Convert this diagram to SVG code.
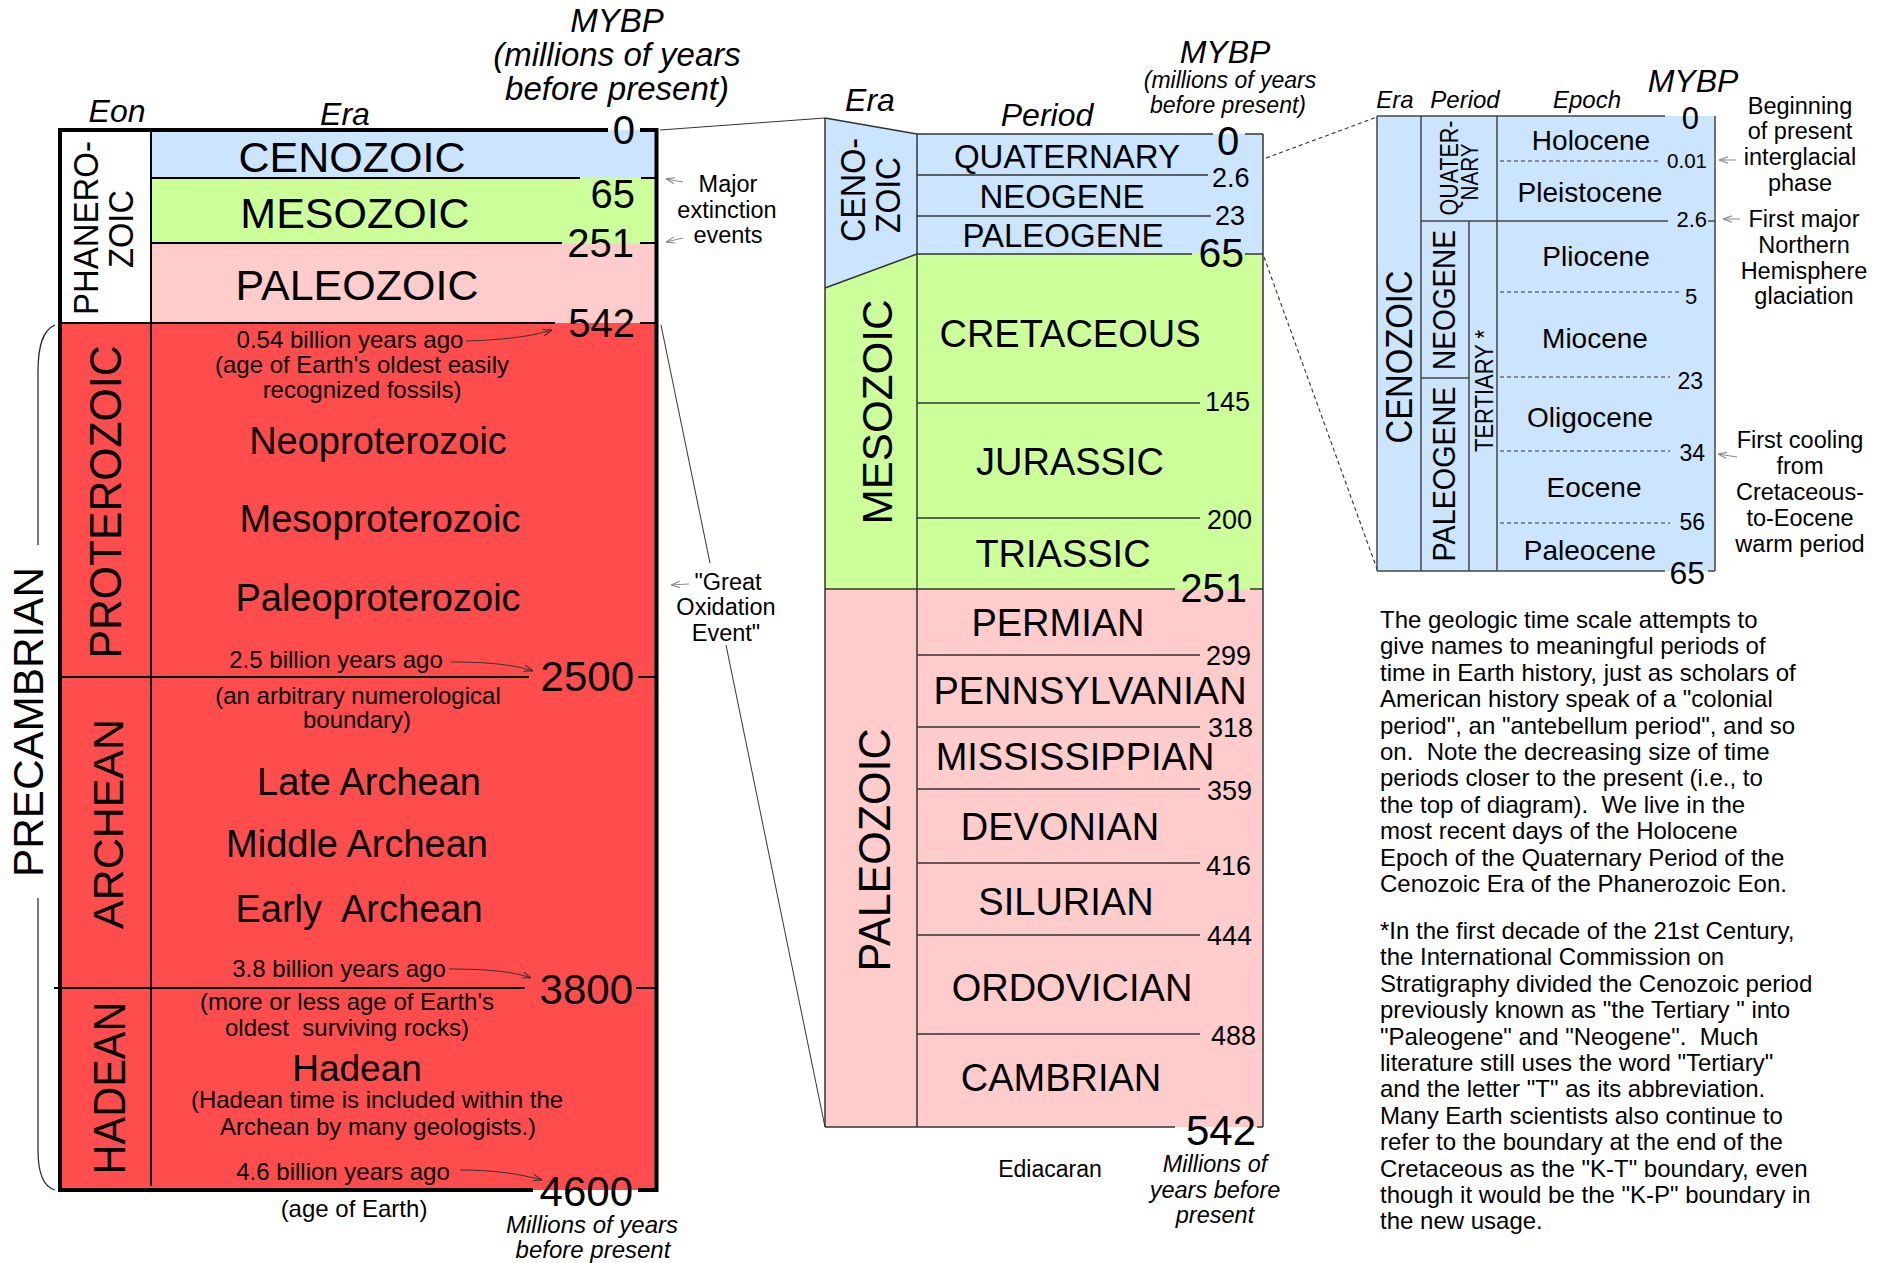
<svg xmlns="http://www.w3.org/2000/svg" width="1889" height="1263" viewBox="0 0 1889 1263">
<style>
text{font-family:"Liberation Sans",Arial,Helvetica,sans-serif;fill:#000}
.c{text-anchor:middle}
.e{text-anchor:end}
.i{font-style:italic}
.s24{font-size:24px}
.s23{font-size:23.5px}
.s27{font-size:27px}
.s38{font-size:38px}
.n40{font-size:40px}
.n42{font-size:42px}
.p33{font-size:33px}
.p38{font-size:38px}
.ep{font-size:28px}
.thick{stroke:#000;stroke-width:4;fill:none}
.ln{stroke:#000;stroke-width:2;fill:none}
.ml{stroke:#333;stroke-width:1.5;fill:none}
.rl{stroke:#444;stroke-width:1.5;fill:none}
.dash{stroke:#333;stroke-width:1.1;stroke-dasharray:4 3;fill:none}
.conn{stroke:#333;stroke-width:1;fill:none}
.arr{stroke:#333;stroke-width:1;fill:none;marker-end:url(#ah)}
.garr{stroke:#888;stroke-width:1;fill:none;marker-end:url(#gah)}
.blue{fill:#cce5ff}
.green{fill:#ccff99}
.pink{fill:#ffcccc}
.red{fill:#ff4d4d}
</style>
<defs>
<marker id="ah" viewBox="0 0 10 10" refX="10" refY="5" markerWidth="9" markerHeight="9" markerUnits="userSpaceOnUse" orient="auto"><path d="M0,1.5 L10,5 L0,8.5" fill="none" stroke="#333" stroke-width="1.2"/></marker>
<marker id="gah" viewBox="0 0 10 10" refX="10" refY="5" markerWidth="9" markerHeight="9" markerUnits="userSpaceOnUse" orient="auto"><path d="M0,1.5 L10,5 L0,8.5" fill="none" stroke="#888" stroke-width="1.2"/></marker>
</defs>
<rect width="1889" height="1263" fill="#fff"/>

<!-- ================= LEFT COLUMN ================= -->
<g id="left-headers">
<text class="c i" x="617" y="32" style="font-size:33px">MYBP</text>
<text class="c i" x="617" y="66" style="font-size:33px">(millions of years</text>
<text class="c i" x="617" y="100" style="font-size:33px">before present)</text>
<text class="c i" x="117" y="122" style="font-size:32px">Eon</text>
<text class="c i" x="345" y="125" style="font-size:32px">Era</text>
</g>

<g id="phanerozoic-eon">
<rect x="60" y="130" width="91" height="193" fill="#fff"/>
<text class="c" transform="translate(98,228) rotate(-90)" style="font-size:35px" textLength="174" lengthAdjust="spacingAndGlyphs">PHANERO-</text>
<text class="c" transform="translate(133,229) rotate(-90)" style="font-size:35px" textLength="78" lengthAdjust="spacingAndGlyphs">ZOIC</text>
</g>
<g id="cenozoic-left">
<rect class="blue" x="151" y="130" width="505" height="48"/>
<text class="c" x="352" y="172" style="font-size:43px">CENOZOIC</text>
</g>
<g id="mesozoic-left">
<rect class="green" x="151" y="178" width="505" height="65"/>
<text class="c" x="355" y="228" style="font-size:43px">MESOZOIC</text>
</g>
<g id="paleozoic-left">
<rect class="pink" x="151" y="243" width="505" height="80"/>
<text class="c" x="357" y="300" style="font-size:43px">PALEOZOIC</text>
</g>
<g id="precambrian-left">
<rect class="red" x="60" y="323" width="596" height="867"/>
</g>
<g id="proterozoic">
<text class="c" transform="translate(121,502) rotate(-90)" style="font-size:44px" textLength="313" lengthAdjust="spacingAndGlyphs">PROTEROZOIC</text>
<text class="c s24" x="350" y="348">0.54 billion years ago</text>
<text class="c s24" x="362" y="373">(age of Earth's oldest easily</text>
<text class="c s24" x="362" y="398">recognized fossils)</text>
<text class="c s38" x="378" y="454">Neoproterozoic</text>
<text class="c s38" x="380" y="532">Mesoproterozoic</text>
<text class="c s38" x="378" y="611">Paleoproterozoic</text>
<text class="c s24" x="336" y="668">2.5 billion years ago</text>
</g>
<g id="archean">
<text class="c" transform="translate(123,824) rotate(-90)" style="font-size:43px" textLength="210" lengthAdjust="spacingAndGlyphs">ARCHEAN</text>
<text class="c s24" x="358" y="704">(an arbitrary numerological</text>
<text class="c s24" x="357" y="728">boundary)</text>
<text class="c s38" x="369" y="795">Late Archean</text>
<text class="c s38" x="357" y="857">Middle Archean</text>
<text class="c s38" x="359" y="922">Early&#160; Archean</text>
<text class="c s24" x="339" y="977">3.8 billion years ago</text>
</g>
<g id="hadean">
<text class="c" transform="translate(125,1088) rotate(-90)" style="font-size:44px" textLength="173" lengthAdjust="spacingAndGlyphs">HADEAN</text>
<text class="c s24" x="347" y="1010">(more or less age of Earth's</text>
<text class="c s24" x="347" y="1036">oldest&#160; surviving rocks)</text>
<text class="c" x="357" y="1081" style="font-size:37px">Hadean</text>
<text class="c s24" x="377" y="1108">(Hadean time is included within the</text>
<text class="c s24" x="378" y="1135">Archean by many geologists.)</text>
<text class="c s24" x="343" y="1180">4.6 billion years ago</text>
</g>
<g id="precambrian-label">
<text class="c" transform="translate(43,722) rotate(-90)" style="font-size:42px" textLength="310" lengthAdjust="spacingAndGlyphs">PRECAMBRIAN</text>
<path d="M55,325 C43,330 38,345 38,372 L38,545 M38,898 L38,1150 C38,1174 44,1187 55,1190" stroke="#222" stroke-width="1.2" fill="none"/>
</g>
<g id="left-lines">
<line class="ln" x1="151" y1="130" x2="151" y2="1186"/>
<line class="ln" x1="151" y1="178" x2="580" y2="178"/><line class="ln" x1="641" y1="178" x2="656" y2="178"/>
<line class="ln" x1="151" y1="243" x2="562" y2="243"/><line class="ln" x1="640" y1="243" x2="656" y2="243"/>
<line class="ln" x1="60" y1="323" x2="555" y2="323"/><line class="ln" x1="640" y1="323" x2="656" y2="323"/>
<line class="ln" x1="60" y1="677" x2="529" y2="677"/><line class="ln" x1="638" y1="677" x2="656" y2="677"/>
<line class="ln" x1="54" y1="988" x2="525" y2="988"/><line class="ln" x1="636" y1="988" x2="656" y2="988"/>
<line class="thick" x1="60" y1="128" x2="60" y2="1192"/>
<line class="thick" x1="656.5" y1="128" x2="656.5" y2="1192"/>
<line class="thick" x1="58" y1="130" x2="608" y2="130"/><line class="thick" x1="640" y1="130" x2="658" y2="130"/>
<line class="thick" x1="58" y1="1190" x2="533" y2="1190"/><line class="thick" x1="638" y1="1190" x2="658" y2="1190"/>
</g>
<g id="left-numbers">
<text class="e n40" x="635" y="144">0</text>
<text class="e n40" x="635" y="208">65</text>
<text class="e n40" x="634" y="257">251</text>
<text class="e n40" x="635" y="337">542</text>
<text class="e n42" x="634" y="691">2500</text>
<text class="e n42" x="633" y="1004">3800</text>
<text class="e n42" x="633" y="1206">4600</text>
<text class="c s24" x="354" y="1217">(age of Earth)</text>
<text class="c i s24" x="592" y="1233">Millions of years</text>
<text class="c i s24" x="593" y="1258">before present</text>
</g>

<g id="left-notes">
<text class="c s23" x="728" y="192">Major</text>
<text class="c s23" x="727" y="218">extinction</text>
<text class="c s23" x="728" y="243">events</text>
<text class="c s23" x="728" y="590">"Great</text>
<text class="c s23" x="726" y="615">Oxidation</text>
<text class="c s23" x="726" y="641">Event"</text>
</g>

<!-- ================= MIDDLE COLUMN ================= -->
<g id="middle-headers">
<text class="c i" x="870" y="111" style="font-size:32px">Era</text>
<text class="c i" x="1047" y="126" style="font-size:32px">Period</text>
<text class="c i" x="1225" y="63" style="font-size:32px">MYBP</text>
<text class="c i" x="1230" y="88" style="font-size:23px">(millions of years</text>
<text class="c i" x="1228" y="113" style="font-size:23px">before present)</text>
</g>
<g id="cenozoic-mid">
<polygon class="blue" points="825,118 917,134 917,254 825,288"/>
<rect class="blue" x="917" y="134" width="346" height="120"/>
<text class="c" transform="translate(865,190) rotate(-90)" style="font-size:35px" textLength="104" lengthAdjust="spacingAndGlyphs">CENO-</text>
<text class="c" transform="translate(900,195) rotate(-90)" style="font-size:35px" textLength="76" lengthAdjust="spacingAndGlyphs">ZOIC</text>
<text class="c p33" x="1067" y="168">QUATERNARY</text>
<text class="c p33" x="1062" y="208">NEOGENE</text>
<text class="c p33" x="1063" y="247">PALEOGENE</text>
</g>
<g id="mesozoic-mid">
<polygon class="green" points="825,288 917,254 1263,254 1263,589 825,589"/>
<text class="c" transform="translate(892,412) rotate(-90)" style="font-size:43px" textLength="225" lengthAdjust="spacingAndGlyphs">MESOZOIC</text>
<text class="c p38" x="1070" y="347">CRETACEOUS</text>
<text class="c p38" x="1070" y="475">JURASSIC</text>
<text class="c p38" x="1063" y="567">TRIASSIC</text>
</g>
<g id="paleozoic-mid">
<rect class="pink" x="825" y="589" width="438" height="538"/>
<text class="c" transform="translate(890,850) rotate(-90)" style="font-size:44px" textLength="243" lengthAdjust="spacingAndGlyphs">PALEOZOIC</text>
<text class="c p38" x="1058" y="636">PERMIAN</text>
<text class="c p38" x="1090" y="704">PENNSYLVANIAN</text>
<text class="c p38" x="1075" y="770">MISSISSIPPIAN</text>
<text class="c p38" x="1060" y="840">DEVONIAN</text>
<text class="c p38" x="1066" y="915">SILURIAN</text>
<text class="c p38" x="1072" y="1001">ORDOVICIAN</text>
<text class="c p38" x="1061" y="1091">CAMBRIAN</text>
</g>
<g id="middle-lines">
<line class="ml" x1="825" y1="118" x2="917" y2="134"/>
<line class="ml" x1="825" y1="118" x2="825" y2="1127"/>
<line class="ml" x1="917" y1="134" x2="917" y2="1127"/>
<line class="ml" x1="825" y1="288" x2="917" y2="254"/>
<line class="ml" x1="1263" y1="134" x2="1263" y2="1127"/>
<line class="ml" x1="917" y1="134" x2="1213" y2="134"/><line class="ml" x1="1245" y1="134" x2="1263" y2="134"/>
<line class="ml" x1="917" y1="175" x2="1208" y2="175"/>
<line class="ml" x1="917" y1="216" x2="1211" y2="216"/>
<line class="ml" x1="917" y1="254" x2="1192" y2="254"/><line class="ml" x1="1245" y1="254" x2="1263" y2="254"/>
<line class="ml" x1="917" y1="403" x2="1200" y2="403"/>
<line class="ml" x1="917" y1="518" x2="1200" y2="518"/>
<line class="ml" x1="825" y1="589" x2="1175" y2="589"/><line class="ml" x1="1250" y1="589" x2="1263" y2="589"/>
<line class="ml" x1="917" y1="655" x2="1200" y2="655"/>
<line class="ml" x1="917" y1="727" x2="1200" y2="727"/>
<line class="ml" x1="917" y1="789" x2="1200" y2="789"/>
<line class="ml" x1="917" y1="863" x2="1200" y2="863"/>
<line class="ml" x1="917" y1="935" x2="1200" y2="935"/>
<line class="ml" x1="917" y1="1034" x2="1200" y2="1034"/>
<line class="ml" x1="825" y1="1127" x2="1175" y2="1127"/><line class="ml" x1="1257" y1="1127" x2="1263" y2="1127"/>
</g>
<g id="middle-numbers">
<text class="c n40" x="1228" y="155">0</text>
<text class="s27" x="1212" y="187">2.6</text>
<text class="s27" x="1215" y="225">23</text>
<text class="e" x="1244" y="267" style="font-size:41px">65</text>
<text class="s27" x="1205" y="411">145</text>
<text class="s27" x="1207" y="529">200</text>
<text class="e n40" x="1247" y="602">251</text>
<text class="s27" x="1206" y="665">299</text>
<text class="s27" x="1208" y="737">318</text>
<text class="s27" x="1207" y="800">359</text>
<text class="s27" x="1206" y="875">416</text>
<text class="s27" x="1207" y="945">444</text>
<text class="s27" x="1211" y="1045">488</text>
<text class="e n42" x="1256" y="1145">542</text>
<text class="c" x="1050" y="1177" style="font-size:23px">Ediacaran</text>
<text class="c i" x="1215" y="1172" style="font-size:23.5px">Millions of</text>
<text class="c i" x="1215" y="1198" style="font-size:23.5px">years before</text>
<text class="c i" x="1215" y="1223" style="font-size:23.5px">present</text>
</g>

<!-- ================= RIGHT COLUMN ================= -->
<g id="right-headers">
<text class="c i s24" x="1395" y="108">Era</text>
<text class="c i s24" x="1465" y="108">Period</text>
<text class="c i s24" x="1587" y="108">Epoch</text>
<text class="c i" x="1693" y="92" style="font-size:32px">MYBP</text>
</g>
<g id="cenozoic-right">
<rect class="blue" x="1377" y="116" width="338" height="455"/>
<text class="c" transform="translate(1412,357) rotate(-90)" style="font-size:37px" textLength="173" lengthAdjust="spacingAndGlyphs">CENOZOIC</text>
</g>
<g id="quaternary-right">
<text class="c" transform="translate(1458,168) rotate(-90)" style="font-size:25px" textLength="95" lengthAdjust="spacingAndGlyphs">QUATER-</text>
<text class="c" transform="translate(1478,172) rotate(-90)" style="font-size:24px" textLength="57" lengthAdjust="spacingAndGlyphs">NARY</text>
</g>
<g id="neogene-right">
<text class="c" transform="translate(1455,300) rotate(-90)" style="font-size:32px" textLength="140" lengthAdjust="spacingAndGlyphs">NEOGENE</text>
</g>
<g id="paleogene-right">
<text class="c" transform="translate(1455,474) rotate(-90)" style="font-size:32px" textLength="175" lengthAdjust="spacingAndGlyphs">PALEOGENE</text>
</g>
<g id="tertiary-right">
<text transform="translate(1493,452) rotate(-90)" style="font-size:25px" textLength="122" lengthAdjust="spacingAndGlyphs">TERTIARY *</text>
</g>
<g id="epochs">
<text class="c ep" x="1591" y="150">Holocene</text>
<text class="c ep" x="1590" y="202">Pleistocene</text>
<text class="c ep" x="1596" y="266">Pliocene</text>
<text class="c ep" x="1595" y="348">Miocene</text>
<text class="c ep" x="1590" y="427">Oligocene</text>
<text class="c ep" x="1594" y="497">Eocene</text>
<text class="c ep" x="1590" y="560">Paleocene</text>
</g>
<g id="right-lines">
<line class="rl" x1="1377" y1="116" x2="1665" y2="116"/>
<line class="rl" x1="1377" y1="116" x2="1377" y2="571"/>
<line class="rl" x1="1715" y1="116" x2="1715" y2="571"/>
<line class="rl" x1="1377" y1="571" x2="1665" y2="571"/><line class="rl" x1="1708" y1="571" x2="1715" y2="571"/>
<line class="rl" x1="1421" y1="116" x2="1421" y2="571"/>
<line class="rl" x1="1497" y1="116" x2="1497" y2="571"/>
<line class="rl" x1="1469" y1="221" x2="1469" y2="571"/>
<line class="rl" x1="1421" y1="221" x2="1668" y2="221"/><line class="rl" x1="1708" y1="221" x2="1715" y2="221"/>
<line class="rl" x1="1421" y1="378" x2="1469" y2="378"/>
<line class="dash" x1="1500" y1="161" x2="1658" y2="161"/>
<line class="dash" x1="1500" y1="292" x2="1680" y2="292"/>
<line class="dash" x1="1500" y1="377" x2="1670" y2="377"/>
<line class="dash" x1="1500" y1="451" x2="1670" y2="451"/>
<line class="dash" x1="1500" y1="523" x2="1670" y2="523"/>
</g>
<g id="right-numbers">
<text class="e" x="1699" y="129" style="font-size:31px">0</text>
<text class="e" x="1707" y="168" style="font-size:20.5px">0.01</text>
<text class="e" x="1707" y="227" style="font-size:22px">2.6</text>
<text class="c" x="1691" y="304" style="font-size:22px">5</text>
<text class="e" x="1703" y="389" style="font-size:23px">23</text>
<text class="e" x="1705" y="461" style="font-size:23px">34</text>
<text class="e" x="1705" y="530" style="font-size:23px">56</text>
<text class="e" x="1705" y="584" style="font-size:32px">65</text>
</g>
<g id="right-notes">
<text class="c s23" x="1800" y="114">Beginning</text>
<text class="c s23" x="1800" y="139">of present</text>
<text class="c s23" x="1800" y="165">interglacial</text>
<text class="c s23" x="1800" y="191">phase</text>
<text class="c s23" x="1804" y="227">First major</text>
<text class="c s23" x="1804" y="253">Northern</text>
<text class="c s23" x="1804" y="279">Hemisphere</text>
<text class="c s23" x="1804" y="304">glaciation</text>
<text class="c s23" x="1800" y="448">First cooling</text>
<text class="c s23" x="1800" y="474">from</text>
<text class="c s23" x="1800" y="500">Cretaceous-</text>
<text class="c s23" x="1800" y="526">to-Eocene</text>
<text class="c s23" x="1800" y="552">warm period</text>
</g>

<g id="explanation">
<text class="s24">
<tspan x="1380" y="628">The geologic time scale attempts to</tspan>
<tspan x="1380" dy="26.4">give names to meaningful periods of</tspan>
<tspan x="1380" dy="26.4">time in Earth history, just as scholars of</tspan>
<tspan x="1380" dy="26.4">American history speak of a "colonial</tspan>
<tspan x="1380" dy="26.4">period", an "antebellum period", and so</tspan>
<tspan x="1380" dy="26.4">on.&#160; Note the decreasing size of time</tspan>
<tspan x="1380" dy="26.4">periods closer to the present (i.e., to</tspan>
<tspan x="1380" dy="26.4">the top of diagram).&#160; We live in the</tspan>
<tspan x="1380" dy="26.4">most recent days of the Holocene</tspan>
<tspan x="1380" dy="26.4">Epoch of the Quaternary Period of the</tspan>
<tspan x="1380" dy="26.4">Cenozoic Era of the Phanerozoic Eon.</tspan>
</text>
<text class="s24">
<tspan x="1380" y="939">*In the first decade of the 21st Century,</tspan>
<tspan x="1380" dy="26.4">the International Commission on</tspan>
<tspan x="1380" dy="26.4">Stratigraphy divided the Cenozoic period</tspan>
<tspan x="1380" dy="26.4">previously known as "the Tertiary " into</tspan>
<tspan x="1380" dy="26.4">"Paleogene" and "Neogene".&#160; Much</tspan>
<tspan x="1380" dy="26.4">literature still uses the word "Tertiary"</tspan>
<tspan x="1380" dy="26.4">and the letter "T" as its abbreviation.</tspan>
<tspan x="1380" dy="26.4">Many Earth scientists also continue to</tspan>
<tspan x="1380" dy="26.4">refer to the boundary at the end of the</tspan>
<tspan x="1380" dy="26.4">Cretaceous as the "K-T" boundary, even</tspan>
<tspan x="1380" dy="26.4">though it would be the "K-P" boundary in</tspan>
<tspan x="1380" dy="26.4">the new usage.</tspan>
</text>
</g>

<!-- ================= CONNECTORS ================= -->
<g id="connectors">
<line class="conn" x1="660" y1="130" x2="825" y2="118"/>
<line class="conn" x1="661" y1="325" x2="710" y2="563"/>
<line class="conn" x1="726" y1="645" x2="825" y2="1127"/>
<line class="dash" x1="1266" y1="158" x2="1377" y2="117"/>
<line class="dash" x1="1264" y1="257" x2="1377" y2="569"/>
<path class="arr" d="M466,341 C500,340 530,337 552,330"/>
<path class="arr" d="M451,662 C490,662 515,665 533,671"/>
<path class="arr" d="M449,969 C490,969 515,972 531,978"/>
<path class="arr" d="M460,1170 C495,1170 520,1174 542,1180"/>
<path class="garr" d="M683,182 L666,179"/>
<path class="garr" d="M683,238 L666,242"/>
<path class="garr" d="M689,584 L671,585"/>
<path class="garr" d="M1736,160 L1719,160"/>
<path class="garr" d="M1740,219 L1723,219"/>
<path class="garr" d="M1737,457 L1718,454"/>
</g>
</svg>
